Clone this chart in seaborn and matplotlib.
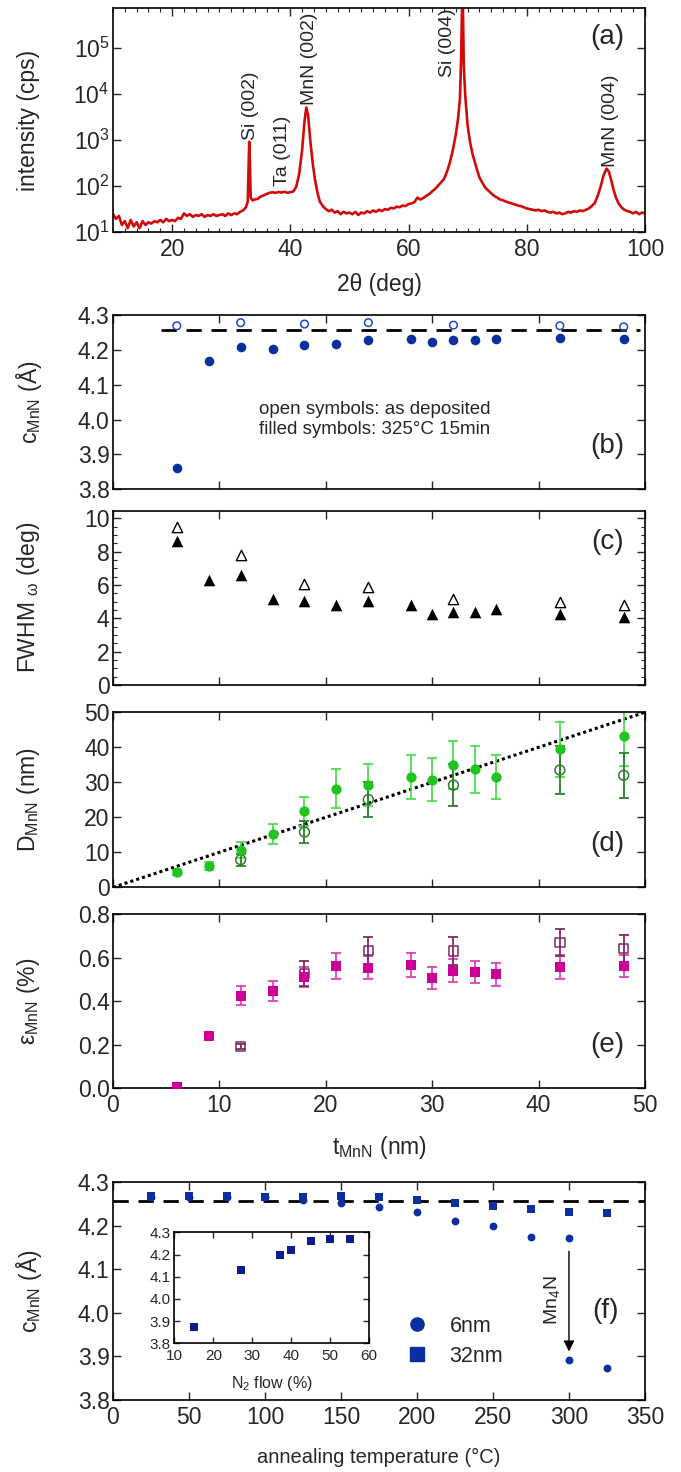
import numpy as np
import pandas as pd
import seaborn as sns
import matplotlib
matplotlib.use("Agg")
import matplotlib.pyplot as plt
from matplotlib.lines import Line2D
from matplotlib.ticker import MultipleLocator, FixedLocator, NullLocator, FormatStrFormatter

##########################
# Data
##########################

# (a) XRD scan
two_theta = [10.0, 10.5, 11.0, 11.5, 12.0, 12.5, 13.0, 13.5, 14.0, 14.5, 15.0, 15.5, 16.0, 16.5,
             17.0, 17.5, 18.0, 18.5, 19.0, 19.5, 20.0, 20.5, 21.0, 21.5, 22.0, 22.5, 23.0, 23.5,
             24.0, 24.5, 25.0, 25.5, 26.0, 26.5, 27.0, 27.5, 28.0, 28.5, 29.0, 29.5, 30.0, 30.5,
             31.0, 31.5, 32.0, 32.5, 32.8, 32.95, 33.05, 33.15, 33.3, 33.6, 34.0, 34.5, 35.0, 35.5,
             36.0, 36.5, 37.0, 37.5, 38.0, 38.5, 39.0, 39.5, 40.0, 40.5, 41.0, 41.5, 42.0, 42.4,
             42.7, 43.0, 43.4, 43.8, 44.2, 44.6, 45.0, 45.5, 46.0, 46.5, 47.0, 47.5, 48.0, 48.5,
             49.0, 49.5, 50.0, 50.5, 51.0, 51.5, 52.0, 52.5, 53.0, 53.5, 54.0, 54.5, 55.0, 55.5,
             56.0, 56.5, 57.0, 57.5, 58.0, 58.5, 59.0, 59.5, 60.0, 60.5, 61.0, 61.5, 62.0, 62.5,
             63.0, 63.5, 64.0, 64.5, 65.0, 65.5, 66.0, 66.5, 67.0, 67.5, 68.0, 68.4, 68.7, 68.9,
             69.05, 69.2, 69.35, 69.6, 70.0, 70.4, 70.8, 71.2, 71.6, 72.0, 72.5, 73.0, 73.5, 74.0,
             74.5, 75.0, 75.5, 76.0, 76.5, 77.0, 77.5, 78.0, 78.5, 79.0, 79.5, 80.0, 80.5, 81.0,
             81.5, 82.0, 82.5, 83.0, 83.5, 84.0, 84.5, 85.0, 85.5, 86.0, 86.5, 87.0, 87.5, 88.0,
             88.5, 89.0, 89.5, 90.0, 90.5, 91.0, 91.5, 92.0, 92.5, 93.0, 93.5, 93.9, 94.3, 94.7,
             95.1, 95.5, 96.0, 96.5, 97.0, 97.5, 98.0, 98.5, 99.0, 99.5, 100.0]
intensity = [24, 19, 22, 14, 17, 12, 18, 13, 16, 12, 17, 14, 16, 15,
             17, 16, 18, 16, 19, 17, 18, 17, 20, 19, 25, 22, 24, 21,
             23, 22, 24, 21, 23, 22, 24, 22, 23, 24, 22, 25, 23, 25,
             24, 27, 29, 34, 45, 300, 900, 350, 55, 48, 50, 52, 58, 62,
             66, 70, 72, 70, 73, 71, 74, 70, 72, 75, 95, 180, 600, 2500,
             5000, 3500, 900, 300, 130, 70, 45, 36, 31, 28, 30, 26, 28, 24,
             27, 25, 26, 24, 27, 23, 26, 25, 28, 26, 29, 27, 30, 28,
             31, 30, 33, 32, 35, 34, 37, 36, 40, 41, 44, 55, 50, 54,
             60, 66, 75, 85, 100, 118, 140, 200, 320, 600, 1300, 3000, 8000, 60000,
             800000, 800000, 40000, 9000, 2000, 900, 500, 330, 220, 150, 115, 90, 78, 68,
             60, 55, 50, 48, 45, 43, 41, 39, 37, 36, 34, 32, 31, 30,
             29, 30, 28, 29, 27, 26, 27, 25, 26, 24, 25, 27, 26, 28,
             27, 29, 28, 30, 32, 36, 42, 60, 95, 170, 235, 200, 130, 80,
             55, 42, 34, 30, 28, 27, 25, 27, 24, 26, 25]
peak_names = ["Si (002)", "Ta (011)", "MnN (002)", "Si (004)", "MnN (004)"]
peak_pos = [33.3, 38.7, 43.2, 66.6, 94.1]
peak_base = [1000, 100, 5600, 23000, 260]

# (b)-(e) thickness series
t_ann = [6, 9, 12, 15, 18, 21, 24, 28, 30, 32, 34, 36, 42, 48]
t_dep = [6, 12, 18, 24, 32, 42, 48]
c_ann = [3.860, 4.169, 4.209, 4.203, 4.214, 4.218, 4.228, 4.231, 4.223, 4.227, 4.228, 4.232, 4.233, 4.232]
c_dep = [4.269, 4.278, 4.274, 4.278, 4.271, 4.269, 4.266]
c_bulk = 4.257
fwhm_ann = [8.65, 6.3, 6.58, 5.19, 5.07, 4.83, 5.07, 4.83, 4.27, 4.37, 4.37, 4.57, 4.29, 4.06]
fwhm_dep = [9.46, 7.8, 6.08, 5.88, 5.19, 4.99, 4.79]
D_ann = [4.3, 6.0, 10.7, 15.3, 21.7, 28.2, 29.3, 31.5, 30.8, 34.9, 33.7, 31.4, 39.4, 43.3]
D_ann_err = [0.7, 1.1, 2.2, 2.9, 4.1, 5.6, 6.0, 6.3, 6.2, 6.9, 6.7, 6.3, 7.9, 8.5]
t_dep_D = [12, 18, 24, 32, 42, 48]
D_dep = [7.9, 15.8, 25.1, 29.2, 33.5, 32.0]
D_dep_err = [1.7, 3.1, 5.0, 5.9, 6.9, 6.4]
eps_ann = [0.008, 0.24, 0.425, 0.446, 0.512, 0.561, 0.554, 0.566, 0.505, 0.540, 0.535, 0.523, 0.558, 0.561]
eps_ann_err = [0.0, 0.0, 0.045, 0.046, 0.045, 0.058, 0.053, 0.057, 0.050, 0.054, 0.050, 0.054, 0.055, 0.052]
t_dep_eps = [12, 18, 24, 32, 42, 48]
eps_dep = [0.191, 0.528, 0.632, 0.630, 0.670, 0.642]
eps_dep_err = [0.01, 0.058, 0.060, 0.063, 0.063, 0.063]

# (f) annealing series
T_6nm = [25, 50, 75, 100, 125, 150, 175, 200, 225, 250, 275, 300, 300, 325]
c_6nm = [4.267, 4.267, 4.267, 4.266, 4.259, 4.253, 4.244, 4.231, 4.212, 4.200, 4.174, 4.173, 3.893, 3.873]
T_32nm = [25, 50, 75, 100, 125, 150, 175, 200, 225, 250, 275, 300, 325]
c_32nm = [4.269, 4.269, 4.268, 4.267, 4.267, 4.268, 4.267, 4.260, 4.252, 4.246, 4.239, 4.232, 4.229]
n2_flow = [15, 27, 37, 40, 45, 50, 55]
c_n2 = [3.872, 4.130, 4.199, 4.220, 4.259, 4.270, 4.270]

##################
# Figure settings
##################
sns.set_style("ticks")
plt.rcParams['font.family'] = ['Liberation Sans', 'DejaVu Sans']
plt.rcParams['mathtext.fontset'] = 'custom'
plt.rcParams['mathtext.rm'] = 'Liberation Sans'
plt.rcParams['mathtext.it'] = 'Liberation Sans:italic'
plt.rcParams['mathtext.default'] = 'regular'

red = "#d10a0a"
blue = "#0b2f9f"
blue_open = "#1f47c8"
green = "#1fc41f"
green_err = "#4fdc4f"
green_dark = "#2e7d2e"
mag = "#cc0099"
mag_err = "#e040b8"
purple = "#7e2a66"
navy = "#0a1c90"

FS = 16.5    # tick labels
FL = 16.5    # axis labels
FP = 20      # panel letters

fig = plt.figure(figsize=(6.81, 14.72), dpi=100)
L, W = 0.1659, 0.7812
ax_a = fig.add_axes([L, 0.8426, W, 0.1518])
ax_b = fig.add_axes([L, 0.6676, W, 0.1184])
ax_c = fig.add_axes([L, 0.5346, W, 0.1184])
ax_d = fig.add_axes([L, 0.3972, W, 0.1189])
ax_e = fig.add_axes([L, 0.2607, W, 0.1184])
ax_f = fig.add_axes([L, 0.0489, W, 0.1479])
ax_in = fig.add_axes([0.2559, 0.0874, 0.2863, 0.0754])


def style(ax, size=FS, length=6, xpad=4.5):
    ax.tick_params(which='major', direction='in', top=True, right=True, length=length,
                   width=1, labelsize=size, pad=2.5)
    ax.tick_params(axis='x', which='major', pad=xpad)
    ax.tick_params(which='minor', direction='in', top=True, right=True, length=length / 2, width=0.8)
    for s in ax.spines.values():
        s.set_linewidth(1.2)
        s.set_color('k')


def ylab(ax, text, x=-0.158):
    ax.set_ylabel(text, fontsize=FL, va='center')
    ax.yaxis.set_label_coords(x, 0.5)


# (a)
sns.lineplot(x=two_theta, y=intensity, ax=ax_a, color=red, lw=1.9)
ax_a.set_yscale('log')
ax_a.set_xlim(10, 100)
ax_a.set_ylim(10, 7.2e5)
ax_a.yaxis.set_major_locator(FixedLocator([1e1, 1e2, 1e3, 1e4, 1e5]))
ax_a.yaxis.set_minor_locator(NullLocator())
ax_a.xaxis.set_major_locator(MultipleLocator(20))
ax_a.xaxis.set_minor_locator(MultipleLocator(2))
style(ax_a)
for name, x, y in zip(peak_names, peak_pos, peak_base):
    ax_a.text(x, y, name, rotation=90, ha='center', va='bottom', fontsize=14)
ax_a.text(0.93, 0.87, "(a)", transform=ax_a.transAxes, fontsize=FP, ha='center', va='center')
ylab(ax_a, "intensity (cps)")
ax_a.set_xlabel("2θ (deg)", fontsize=FL, va='center')
ax_a.xaxis.set_label_coords(0.5, -0.235)

# (b)-(e) shared x
for ax in [ax_b, ax_c, ax_d, ax_e]:
    ax.set_xlim(0, 50)
    ax.xaxis.set_major_locator(MultipleLocator(10))
    style(ax)
    if ax is not ax_e:
        ax.tick_params(labelbottom=False)

# (b)
ax_b.hlines(c_bulk, 4.5, 49.5, colors='k', linestyles=(0, (5.5, 3.5)), lw=2, zorder=1)
sns.scatterplot(x=t_ann, y=c_ann, ax=ax_b, marker='o', s=48, color=blue, edgecolor=blue, linewidth=0, zorder=3)
sns.scatterplot(x=t_dep, y=c_dep, ax=ax_b, marker='o', s=30, facecolor='none', edgecolor=blue_open, linewidth=1.1, zorder=3)
ax_b.set_ylim(3.8, 4.3)
ax_b.yaxis.set_major_locator(MultipleLocator(0.1))
ax_b.yaxis.set_major_formatter(FormatStrFormatter('%.1f'))
ax_b.text(13.7, 4.0, "open symbols: as deposited\nfilled symbols: 325°C 15min", fontsize=13.5,
          ha='left', va='center', linespacing=1.2)
ax_b.text(0.93, 0.25, "(b)", transform=ax_b.transAxes, fontsize=FP, ha='center', va='center')
ylab(ax_b, "c$_{\\mathrm{MnN}}$ (Å)")

# (c)
sns.scatterplot(x=t_ann, y=fwhm_ann, ax=ax_c, marker='^', s=70, color='k', edgecolor='k', linewidth=0, zorder=3)
sns.scatterplot(x=t_dep, y=fwhm_dep, ax=ax_c, marker='^', s=55, facecolor='white', edgecolor='k', linewidth=1.0, zorder=3)
ax_c.set_ylim(0, 10.45)
ax_c.yaxis.set_major_locator(MultipleLocator(2))
ax_c.yaxis.set_minor_locator(MultipleLocator(0.5))
ax_c.text(0.93, 0.82, "(c)", transform=ax_c.transAxes, fontsize=FP, ha='center', va='center')
ylab(ax_c, "FWHM $_{\\omega}$ (deg)")

# (d)
ref_line = [0, 50]
ax_d.plot(ref_line, ref_line, color='k', ls=(0, (1, 1)), lw=2.2, zorder=1)
ax_d.errorbar(t_ann, D_ann, yerr=D_ann_err, fmt='none', ecolor=green_err, elinewidth=1.3, capsize=3.5, capthick=1.3, zorder=2)
ax_d.errorbar(t_dep_D, D_dep, yerr=D_dep_err, fmt='none', ecolor=green_dark, elinewidth=1.3, capsize=3.5, capthick=1.3, zorder=2)
sns.scatterplot(x=t_dep_D, y=D_dep, ax=ax_d, marker='o', s=50, facecolor='none', edgecolor=green_dark, linewidth=1.1, zorder=3)
sns.scatterplot(x=t_ann, y=D_ann, ax=ax_d, marker='o', s=55, color=green, edgecolor=green, linewidth=0, zorder=4)
ax_d.set_ylim(0, 50)
ax_d.yaxis.set_major_locator(MultipleLocator(10))
ax_d.text(0.93, 0.25, "(d)", transform=ax_d.transAxes, fontsize=FP, ha='center', va='center')
ylab(ax_d, "D$_{\\mathrm{MnN}}$ (nm)")

# (e)
ax_e.errorbar(t_ann, eps_ann, yerr=eps_ann_err, fmt='none', ecolor=mag_err, elinewidth=1.3, capsize=3.5, capthick=1.3, zorder=2)
ax_e.errorbar(t_dep_eps, eps_dep, yerr=eps_dep_err, fmt='none', ecolor=purple, elinewidth=1.3, capsize=3.5, capthick=1.3, zorder=2)
sns.scatterplot(x=t_dep_eps, y=eps_dep, ax=ax_e, marker='s', s=45, facecolor='none', edgecolor=purple, linewidth=1.1, zorder=3)
sns.scatterplot(x=t_ann, y=eps_ann, ax=ax_e, marker='s', s=55, color=mag, edgecolor=mag, linewidth=0, zorder=4)
ax_e.set_ylim(0, 0.8)
ax_e.yaxis.set_major_locator(MultipleLocator(0.2))
ax_e.yaxis.set_major_formatter(FormatStrFormatter('%.1f'))
ax_e.text(0.93, 0.25, "(e)", transform=ax_e.transAxes, fontsize=FP, ha='center', va='center')
ylab(ax_e, "ε$_{\\mathrm{MnN}}$ (%)")
ax_e.set_xlabel("t$_{\\mathrm{MnN}}$ (nm)", fontsize=FL, va='center')
ax_e.xaxis.set_label_coords(0.5, -0.3425)

# (f)
ax_f.axhline(c_bulk, color='k', ls=(0, (5.5, 3.5)), lw=2, zorder=1)
sns.scatterplot(x=T_6nm, y=c_6nm, ax=ax_f, marker='o', s=32, color=blue, edgecolor=blue, linewidth=0, zorder=3)
sns.scatterplot(x=T_32nm, y=c_32nm, ax=ax_f, marker='s', s=36, color=blue, edgecolor=blue, linewidth=0, zorder=4)
ax_f.set_xlim(0, 350)
ax_f.set_ylim(3.8, 4.3)
ax_f.xaxis.set_major_locator(MultipleLocator(50))
ax_f.yaxis.set_major_locator(MultipleLocator(0.1))
ax_f.yaxis.set_major_formatter(FormatStrFormatter('%.1f'))
style(ax_f)
ax_f.annotate("", xy=(300, 3.905), xytext=(300, 4.148),
              arrowprops=dict(arrowstyle='-|>', color='k', lw=1, mutation_scale=16))
ax_f.text(289, 4.03, "Mn$_4$N", rotation=90, ha='center', va='center', fontsize=14)
ax_f.text(0.925, 0.41, "(f)", transform=ax_f.transAxes, fontsize=FP, ha='center', va='center')
handles = [Line2D([], [], ls='none', marker='o', ms=9.5, color=blue, mec=blue),
           Line2D([], [], ls='none', marker='s', ms=9.5, color=blue, mec=blue)]
ax_f.legend(handles, ["6nm", "32nm"], loc='center left', bbox_to_anchor=(0.515, 0.27),
            frameon=False, fontsize=15.5, handlelength=1.0, handletextpad=1.0, labelspacing=0.4)
ylab(ax_f, "c$_{\\mathrm{MnN}}$ (Å)")
ax_f.set_xlabel("annealing temperature (°C)", fontsize=14.5, va='center')
ax_f.xaxis.set_label_coords(0.5, -0.265)

# inset
sns.scatterplot(x=n2_flow, y=c_n2, ax=ax_in, marker='s', s=26, color=navy, edgecolor=navy, linewidth=0, zorder=3)
ax_in.set_xlim(10, 60)
ax_in.set_ylim(3.8, 4.3)
ax_in.xaxis.set_major_locator(MultipleLocator(10))
ax_in.yaxis.set_major_locator(MultipleLocator(0.1))
ax_in.yaxis.set_major_formatter(FormatStrFormatter('%.1f'))
style(ax_in, size=11, length=4, xpad=4)
ax_in.set_xlabel("N$_2$ flow (%)", fontsize=11.5, va='center')
ax_in.xaxis.set_label_coords(0.5, -0.36)

fig.savefig("out.png", dpi=100)
